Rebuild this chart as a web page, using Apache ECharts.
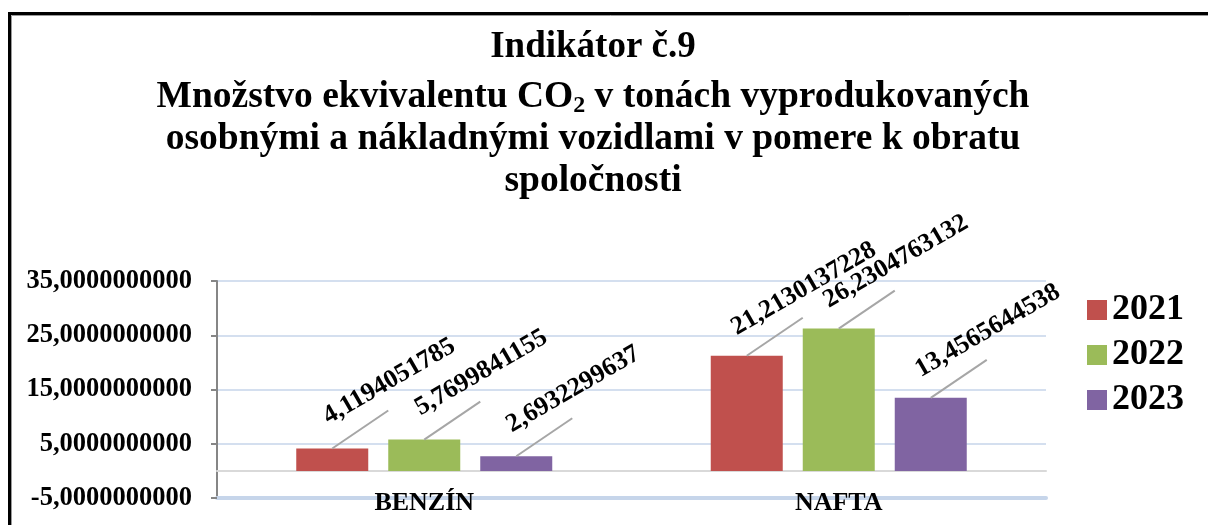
<!DOCTYPE html>
<html>
<head>
<meta charset="utf-8">
<script src="https://cdn.jsdelivr.net/npm/echarts@6/dist/echarts.min.js"></script>
<style>
  html, body { margin: 0; padding: 0; background: #fff; }
  #chart { width: 1208px; height: 525px; }
</style>
</head>
<body>
<div id="chart"></div>
<script>
// data
const categories = ['BENZÍN', 'NAFTA'];
const years = ['2021', '2022', '2023'];
const values2021 = [4.1194051785, 21.2130137228];
const values2022 = [5.7699841155, 26.2304763132];
const values2023 = [2.6932299637, 13.4565644538];
const yMin = -5, yMax = 35, yStep = 10;

const colors = ['#c0504d', '#9bbb59', '#8064a2'];
const serif = '"Liberation Serif", "Times New Roman", serif';
const BAR_W = 72, BAR_SPACE = 20;

// excel style number: 10 decimals, comma separator
const fmt = v => Number(v).toFixed(10).replace('.', ',');

const chart = echarts.init(document.getElementById('chart'));

function barSeries(name, data, color) {
  return {
    name: name,
    type: 'bar',
    xAxisIndex: 0,
    data: data,
    barWidth: BAR_W,
    barGap: (BAR_SPACE / BAR_W * 100) + '%',
    itemStyle: { color: color },
    label: {
      show: true,
      position: 'top',
      formatter: p => fmt(p.value),
      fontFamily: serif,
      fontWeight: 'bold',
      fontSize: 26,
      color: '#000'
    },
    // labels sit up-right of the bar, rotated
    labelLayout: function (p) {
      const cx = p.rect.x + p.rect.width / 2;
      return {
        x: cx + 57,
        y: p.rect.y - 67,
        align: 'center',
        verticalAlign: 'middle',
        rotate: 30
      };
    }
  };
}

// leader lines: one per bar, from bar top going up-right under the label
const allSeries = [values2021, values2022, values2023];
const leaderData = [];
allSeries.forEach((vals, k) => vals.forEach((v, i) => leaderData.push([i, v, k])));

const leaderSeries = {
  type: 'custom',
  xAxisIndex: 0,
  silent: true,
  z: 3,
  data: leaderData,
  renderItem: function (params, api) {
    const pt = api.coord([api.value(0), api.value(1)]);
    const cx = pt[0] + (api.value(2) - 1) * (BAR_W + BAR_SPACE);
    return {
      type: 'line',
      shape: { x1: cx, y1: pt[1], x2: cx + 56, y2: pt[1] - 38 },
      style: { stroke: '#a6a6a6', lineWidth: 2 }
    };
  }
};

const option = {
  animation: false,
  title: {
    left: 588,
    top: 13,
    textAlign: 'center',
    text: '{h|Indikátor č.9}\n{t|Množstvo ekvivalentu CO}{s|2}{t| v tonách vyprodukovaných}\n{t|osobnými a nákladnými vozidlami v pomere k obratu}\n{t|spoločnosti}',
    textStyle: {
      rich: {
        h: { fontFamily: serif, fontWeight: 'bold', fontSize: 37, lineHeight: 58, color: '#000' },
        t: { fontFamily: serif, fontWeight: 'bold', fontSize: 37.5, lineHeight: 42, color: '#000' },
        s: { fontFamily: serif, fontWeight: 'bold', fontSize: 24, lineHeight: 24, verticalAlign: 'bottom', color: '#000' }
      }
    }
  },
  legend: {
    orient: 'vertical',
    left: 1082,
    top: 287,
    itemWidth: 20,
    itemHeight: 20,
    itemGap: 9,
    icon: 'rect',
    data: years,
    textStyle: { fontFamily: serif, fontWeight: 'bold', fontSize: 36, color: '#000' }
  },
  grid: { left: 217, right: 162, top: 281, bottom: 27, containLabel: false },
  xAxis: [
    {
      type: 'category',
      data: categories,
      position: 'bottom',
      axisLine: { onZero: false, lineStyle: { color: '#c6d5ea', width: 4 } },
      axisTick: { show: false },
      axisLabel: {
        margin: 5,
        verticalAlign: 'middle',
        fontFamily: serif, fontWeight: 'bold', fontSize: 26, color: '#000'
      }
    },
    {
      // zero line
      type: 'category',
      data: categories,
      position: 'bottom',
      axisLine: { onZero: true, lineStyle: { color: '#d9d9d9', width: 2 } },
      axisTick: { show: false },
      axisLabel: { show: false }
    }
  ],
  yAxis: {
    type: 'value',
    min: yMin,
    max: yMax,
    interval: yStep,
    axisLine: { show: true, lineStyle: { color: '#868686', width: 2 } },
    axisTick: { show: true, length: 6, lineStyle: { color: '#868686', width: 2 } },
    splitLine: { lineStyle: { color: '#c6d5ea', width: 1.5 } },
    axisLabel: {
      margin: 25,
      formatter: fmt,
      fontFamily: serif, fontWeight: 'bold', fontSize: 26.5, color: '#000'
    }
  },
  graphic: [
    { type: 'rect', silent: true, z: 100,
      shape: { x: 9.5, y: 13.5, width: 1400, height: 700 },
      style: { fill: null, stroke: '#000', lineWidth: 3 } },
    { type: 'rect', silent: true, z: 100,
      shape: { x: 11.5, y: 15.5, width: 1400, height: 700 },
      style: { fill: null, stroke: '#9a9a9a', lineWidth: 1 } }
  ],
  series: [
    barSeries(years[0], values2021, colors[0]),
    barSeries(years[1], values2022, colors[1]),
    barSeries(years[2], values2023, colors[2]),
    leaderSeries
  ]
};

chart.setOption(option);
</script>
</body>
</html>
